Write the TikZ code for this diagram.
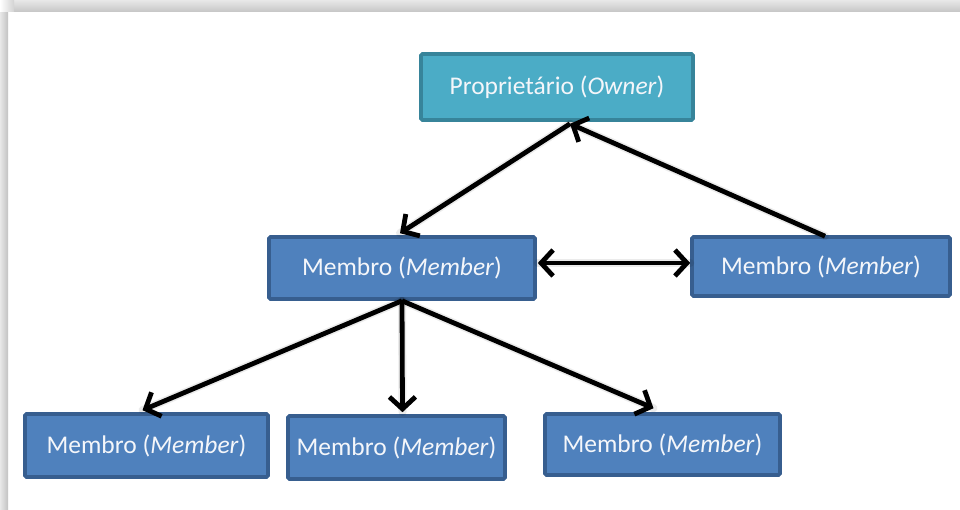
\documentclass[tikz,border=0pt]{standalone}
\usepackage{fontspec}
\setmainfont{Carlito}
\usetikzlibrary{arrows.meta,calc}

\definecolor{ownerfill}{HTML}{4BACC6}
\definecolor{ownerline}{HTML}{37849A}
\definecolor{memberfill}{HTML}{4F81BD}
\definecolor{memberline}{HTML}{375E8F}
\definecolor{labeltext}{HTML}{F4F6FA}

\tikzset{
  box/.style={draw, line width=3.6pt, rounded corners=1.5pt, inner sep=0pt,
    text=labeltext, font=\fontsize{25.5}{30}\selectfont},
  ownerbox/.style={box, fill=ownerfill, draw=ownerline},
  memberbox/.style={box, fill=memberfill, draw=memberline},
  barb/.tip={Straight Barb[length=12pt,width=26pt,line width=4.8pt]},
  link/.style={line width=4.8pt, black, -barb},
  linkshadow/.style={line width=8pt, black, opacity=0.08, line cap=round},
}

\begin{document}
\begin{tikzpicture}[x=1pt,y=-1pt]
  % canvas
  \useasboundingbox (0,0) rectangle (960,510);
  \fill[white] (0,0) rectangle (960,510);

  % soft frame edge along the top and the left
  \shade[top color=gray!18, bottom color=gray!45] (14,0) rectangle (960,12);
  \shade[left color=gray!18, right color=gray!48] (0,12) rectangle (8,510);
  \shade[left color=white, right color=gray!35] (0,0) rectangle (14,12);

  % boxes
  \node[ownerbox, minimum width=272pt, minimum height=66pt] (owner) at (557,87)
    {Proprietário (\textit{Owner})};
  \node[memberbox, minimum width=266pt, minimum height=62pt] (mid) at (402,268)
    {Membro (\textit{Member})};
  \node[memberbox, minimum width=258pt, minimum height=59pt] (right) at (821,266.5)
    {Membro (\textit{Member})};
  \node[memberbox, minimum width=243pt, minimum height=63pt] (bl) at (146.5,445.5)
    {Membro (\textit{Member})};
  \node[memberbox, minimum width=217pt, minimum height=63pt] (bm) at (396.5,447.5)
    {Membro (\textit{Member})};
  \node[memberbox, minimum width=235pt, minimum height=61pt] (br) at (662.5,444.5)
    {Membro (\textit{Member})};

  % connection points
  \coordinate (ownerfoot) at ($(owner.south)+(13,2)$);
  \coordinate (midhead) at ($(mid.north)+(-2,-2)$);
  \coordinate (righttop) at ($(right.north)+(4,1)$);
  \coordinate (midfoot) at ($(mid.south)+(0,0)$);
  \coordinate (blhead) at ($(bl.north)+(-4,-2)$);
  \coordinate (bmhead) at ($(bm.north)+(6,-2)$);
  \coordinate (brhead) at ($(br.north)+(-9,-4)$);
  \coordinate (pairL) at ($(mid.east)+(1,-5)$);
  \coordinate (pairR) at (right.west |- pairL);

  % soft shadows under the connectors
  \begin{scope}[shift={(2,4)}]
    \draw[linkshadow] (ownerfoot) -- (midhead);
    \draw[linkshadow] (righttop) -- (ownerfoot);
    \draw[linkshadow] (pairL) -- (pairR);
    \draw[linkshadow] (midfoot) -- (blhead);
    \draw[linkshadow] (midfoot) -- (bmhead);
    \draw[linkshadow] (midfoot) -- (brhead);
  \end{scope}

  % connectors
  \draw[link] (ownerfoot) -- (midhead);
  \draw[link] (righttop) -- (ownerfoot);
  \draw[link, barb-barb] (pairL) -- (pairR);
  \draw[link] (midfoot) -- (blhead);
  \draw[link] (midfoot) -- (bmhead);
  \draw[link] (midfoot) -- (brhead);
\end{tikzpicture}
\end{document}
